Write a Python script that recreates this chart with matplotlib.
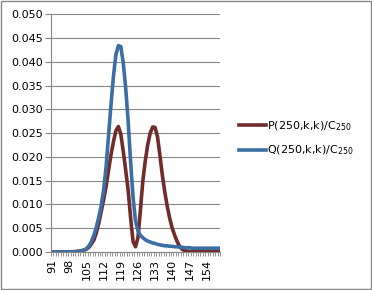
import numpy as np
import matplotlib.pyplot as plt
from matplotlib.patches import Rectangle

k = list(range(91, 160))

P = [0, 0, 0, 0, 0, 0, 0, 0, 0,
     0.0001, 0.0001, 0.0002, 0.0003, 0.0004, 0.0006, 0.0010, 0.0017, 0.0025, 0.0040,
     0.0060, 0.0085, 0.0110, 0.0138, 0.0172, 0.0205, 0.0232, 0.0255, 0.0264, 0.0248,
     0.0212, 0.0172, 0.0130, 0.0072, 0.0022, 0.0011, 0.0030, 0.0088, 0.0150, 0.0192,
     0.0226, 0.0250, 0.0263, 0.0262, 0.0242, 0.0202, 0.0160, 0.0125, 0.0095, 0.0070,
     0.0050, 0.0035, 0.0022, 0.0012, 0.0006, 0.0003, 0.0002, 0.0001,
     0.0001, 0.0001, 0.0001, 0.0001, 0.0001, 0.0001, 0.0001, 0.0001, 0.0001, 0.0001, 0.0001, 0.0001]

Q = [0, 0, 0, 0, 0, 0, 0, 0, 0, 0,
     0.0001, 0.0001, 0.0002, 0.0004, 0.0007, 0.0013, 0.0022, 0.0035, 0.0052, 0.0073,
     0.0098, 0.0130, 0.0180, 0.0245, 0.0310, 0.0370, 0.0415, 0.0434, 0.0432, 0.0398,
     0.0345, 0.0275, 0.0190, 0.0115, 0.0065, 0.0045, 0.0035, 0.0030, 0.0026, 0.0023,
     0.0021, 0.0019, 0.0018, 0.0016, 0.0015, 0.0014, 0.0013, 0.0013, 0.0012, 0.0012,
     0.0011, 0.0011, 0.0010, 0.0010, 0.0009, 0.0009, 0.0009,
     0.0008, 0.0008, 0.0008, 0.0008, 0.0008, 0.0008, 0.0008, 0.0008, 0.0008, 0.0008, 0.0008, 0.0008]

labels = ["P(250,k,k)/C$_{250}$", "Q(250,k,k)/C$_{250}$"]
colors = ["#722b2b", "#3a6ea5"]

fig = plt.figure(figsize=(3.72, 2.90), dpi=100)
fig.patches.append(Rectangle((0.002, 0.003), 0.995, 0.994, transform=fig.transFigure,
                             fill=False, edgecolor="#868686", linewidth=1))
ax = fig.add_axes([51/372, 1 - 252/290, 169/372, (252 - 14.3)/290])

x = np.arange(len(k))
ax.plot(x, P, color=colors[0], lw=2.6, label=labels[0], solid_joinstyle="round")
ax.plot(x, Q, color=colors[1], lw=2.6, label=labels[1], solid_joinstyle="round")

ax.set_xlim(-0.5, len(k) - 0.5)
ax.set_ylim(0, 0.05)
ax.set_yticks(np.arange(0, 0.0501, 0.005))
ax.set_yticklabels(["%.3f" % v for v in np.arange(0, 0.0501, 0.005)], fontsize=8)
ax.set_xticks(x[::7])
ax.set_xticklabels([str(v) for v in k[::7]], rotation=90, fontsize=8)
ax.set_xticks(np.arange(-0.5, len(k), 1), minor=True)
ax.tick_params(axis="x", which="minor", length=3, color="#868686")
ax.tick_params(axis="x", which="major", length=0, pad=5)
ax.tick_params(axis="y", length=4, color="#868686", pad=2)

ax.grid(axis="y", color="#868686", lw=0.8)
ax.set_axisbelow(True)
for s in ["top", "right"]:
    ax.spines[s].set_visible(False)
for s in ["left", "bottom"]:
    ax.spines[s].set_color("#868686")

fig.legend(loc="upper left", bbox_to_anchor=(229/372, 1 - 109/290), frameon=False,
           fontsize=8, handlelength=2.4, handletextpad=0.1, labelspacing=1.0)

fig.savefig("out.png", dpi=100)
